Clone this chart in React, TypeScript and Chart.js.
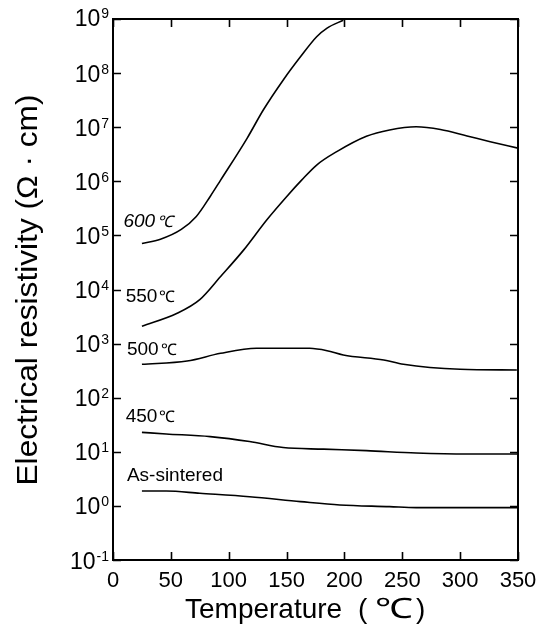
import React, { useEffect, useRef } from "react";
import { Chart, registerables } from "chart.js";

Chart.register(...registerables);

// ---- Data ----
const temp600 = [25, 41, 59, 72, 84, 93, 116, 130, 147, 162, 176, 185, 199];
const res600 = [7.1e4, 8.5e4, 1.29e5, 2.24e5, 5.25e5, 1.05e6, 6.3e6, 2.1e7, 7.4e7, 2.0e8, 4.7e8, 6.8e8, 9.5e8];

const temp550 = [25, 55, 75, 93, 113, 133, 150, 163, 176, 193, 219, 239, 262, 283, 306, 326, 350];
const res550 = [2.1e3, 3.6e3, 6.5e3, 1.74e4, 5.4e4, 1.95e5, 5.2e5, 1.05e6, 2.0e6, 3.5e6, 6.8e6, 8.9e6, 1.02e7, 9.1e6, 6.9e6, 5.4e6, 4.1e6];

const temp500 = [25, 64, 93, 124, 150, 170, 185, 199, 234, 251, 300, 349];
const res500 = [414, 476, 661, 819, 822, 819, 740, 615, 498, 414, 335, 325];

const temp450 = [25, 46, 84, 118, 147, 182, 219, 262, 306, 350];
const res450 = [22.9, 21.4, 19.1, 15.5, 12.0, 11.2, 10.5, 9.5, 9.1, 9.1];

const tempAs = [25, 46, 75, 118, 162, 196, 239, 262, 350];
const resAs = [1.88, 1.88, 1.71, 1.48, 1.2, 1.04, 0.97, 0.93, 0.93];

const seriesNames = ["600℃", "550℃", "500℃", "450℃", "As-sintered"];
const labelTemps = [9, 11, 12, 11, 12];
const labelRes = [1.43e5, 5.9e3, 615, 35.6, 2.9];

const xTicks = [0, 50, 100, 150, 200, 250, 300, 350];
const yTickExponents = [-1, 0, 1, 2, 3, 4, 5, 6, 7, 8, 9];

const xTitleWord = "Temperature";
const xTitleUnit = "℃";
const yTitle = "Electrical resistivity (Ω · cm)";

const FONT = '"Liberation Sans", Arial, Helvetica, sans-serif';

const toPoints = (xs: number[], ys: number[]) => xs.map((x, i) => ({ x, y: ys[i] }));

const decorPlugin = {
  id: "decor",
  afterDraw(chart: any) {
    const ctx = chart.ctx as CanvasRenderingContext2D;
    const { left, right, top, bottom } = chart.chartArea;
    const xs = chart.scales.x;
    const ys = chart.scales.y;
    ctx.save();
    ctx.strokeStyle = "#000";
    ctx.fillStyle = "#000";

    // frame
    ctx.lineWidth = 2;
    ctx.strokeRect(left, top, right - left, bottom - top);

    // ticks (inward)
    const tl = 8;
    ctx.lineWidth = 1.6;
    ctx.beginPath();
    xTicks.forEach((v) => {
      const px = Math.round(xs.getPixelForValue(v)) + 0.5;
      ctx.moveTo(px, bottom);
      ctx.lineTo(px, bottom - tl);
      ctx.moveTo(px, top);
      ctx.lineTo(px, top + tl);
    });
    yTickExponents.forEach((e) => {
      const py = Math.round(ys.getPixelForValue(Math.pow(10, e))) + 0.5;
      ctx.moveTo(left, py);
      ctx.lineTo(left + tl, py);
      ctx.moveTo(right, py);
      ctx.lineTo(right - tl, py);
    });
    ctx.stroke();

    // x tick labels
    ctx.font = `22px ${FONT}`;
    ctx.textAlign = "center";
    ctx.textBaseline = "alphabetic";
    xTicks.forEach((v) => {
      const px = xs.getPixelForValue(v);
      ctx.fillText(String(v), px, 587);
    });

    // y tick labels with superscript exponents
    const rightEdge = 109;
    yTickExponents.forEach((e) => {
      const py = ys.getPixelForValue(Math.pow(10, e));
      ctx.font = `23px ${FONT}`;
      const w1 = ctx.measureText("10").width;
      ctx.font = `14px ${FONT}`;
      const expStr = e < 0 ? "-" + Math.abs(e) : String(e);
      const w2 = ctx.measureText(expStr).width;
      const startX = rightEdge - (w1 + 1 + w2);
      ctx.textAlign = "left";
      ctx.font = `23px ${FONT}`;
      const base = e === 9 ? py + 6.5 : py + 8.5;
      ctx.fillText("10", startX, base);
      ctx.font = `14px ${FONT}`;
      ctx.fillText(expStr, startX + w1 + 1, e === 9 ? py - 1 : py + 0.5);
    });

    // x title
    ctx.font = `28px ${FONT}`;
    ctx.textAlign = "left";
    ctx.fillText(xTitleWord, 185, 618);
    ctx.fillText("(", 358, 618);
    ctx.fillText(")", 416, 618);
    ctx.save();
    ctx.textAlign = "center";
    const uw = ctx.measureText(xTitleUnit).width;
    ctx.translate(394, 618);
    ctx.scale(Math.min(1.4, 38 / uw), 1);
    ctx.fillText(xTitleUnit, 0, 0);
    ctx.restore();

    // y title (rotated), stretched along its direction to match the reference length
    ctx.save();
    ctx.font = `30px ${FONT}`;
    const wy = ctx.measureText(yTitle).width;
    const targetLen = 391;
    ctx.translate(37, 290);
    ctx.rotate(-Math.PI / 2);
    ctx.scale(targetLen / wy, 1);
    ctx.textAlign = "center";
    ctx.fillText(yTitle, 0, 0);
    ctx.restore();

    // series labels
    ctx.textAlign = "left";
    seriesNames.forEach((name, i) => {
      const px = xs.getPixelForValue(labelTemps[i]);
      const py = ys.getPixelForValue(labelRes[i]);
      const style = i === 0 ? "italic " : "";
      if (name.endsWith("℃")) {
        const num = name.slice(0, -1);
        ctx.font = `${style}19px ${FONT}`;
        ctx.fillText(num, px, py);
        const w = ctx.measureText(num).width;
        ctx.font = `${style}16px ${FONT}`;
        ctx.fillText("℃", px + w + 2, py);
      } else {
        ctx.font = `${style}19px ${FONT}`;
        ctx.fillText(name, px, py);
      }
    });

    ctx.restore();
  },
};

export default function App() {
  const canvasRef = useRef<HTMLCanvasElement | null>(null);

  useEffect(() => {
    const canvas = canvasRef.current;
    if (!canvas) return;
    const mk = (label: string, xsArr: number[], ysArr: number[]) => ({
      label,
      data: toPoints(xsArr, ysArr),
      borderColor: "#000",
      backgroundColor: "#000",
      borderWidth: 1.6,
      pointRadius: 0,
      tension: 0.4,
      cubicInterpolationMode: "monotone" as const,
      fill: false,
    });
    const chart = new Chart(canvas, {
      type: "line",
      data: {
        datasets: [
          mk(seriesNames[0], temp600, res600),
          mk(seriesNames[1], temp550, res550),
          mk(seriesNames[2], temp500, res500),
          mk(seriesNames[3], temp450, res450),
          mk(seriesNames[4], tempAs, resAs),
        ],
      },
      options: {
        animation: false,
        responsive: false,
        devicePixelRatio: 1,
        layout: { padding: { left: 113, right: 27, top: 19, bottom: 78 } },
        plugins: {
          legend: { display: false },
          tooltip: { enabled: false },
          title: { display: false },
        },
        scales: {
          x: { type: "linear", min: 0, max: 350, display: false },
          y: { type: "logarithmic", min: 0.1, max: 1e9, display: false },
        },
      },
      plugins: [decorPlugin],
    });
    return () => chart.destroy();
  }, []);

  return (
    <div style={{ position: "fixed", left: 0, top: 0, width: 545, height: 638, background: "#fff" }}>
      <canvas ref={canvasRef} width={545} height={638} style={{ display: "block" }} />
    </div>
  );
}
